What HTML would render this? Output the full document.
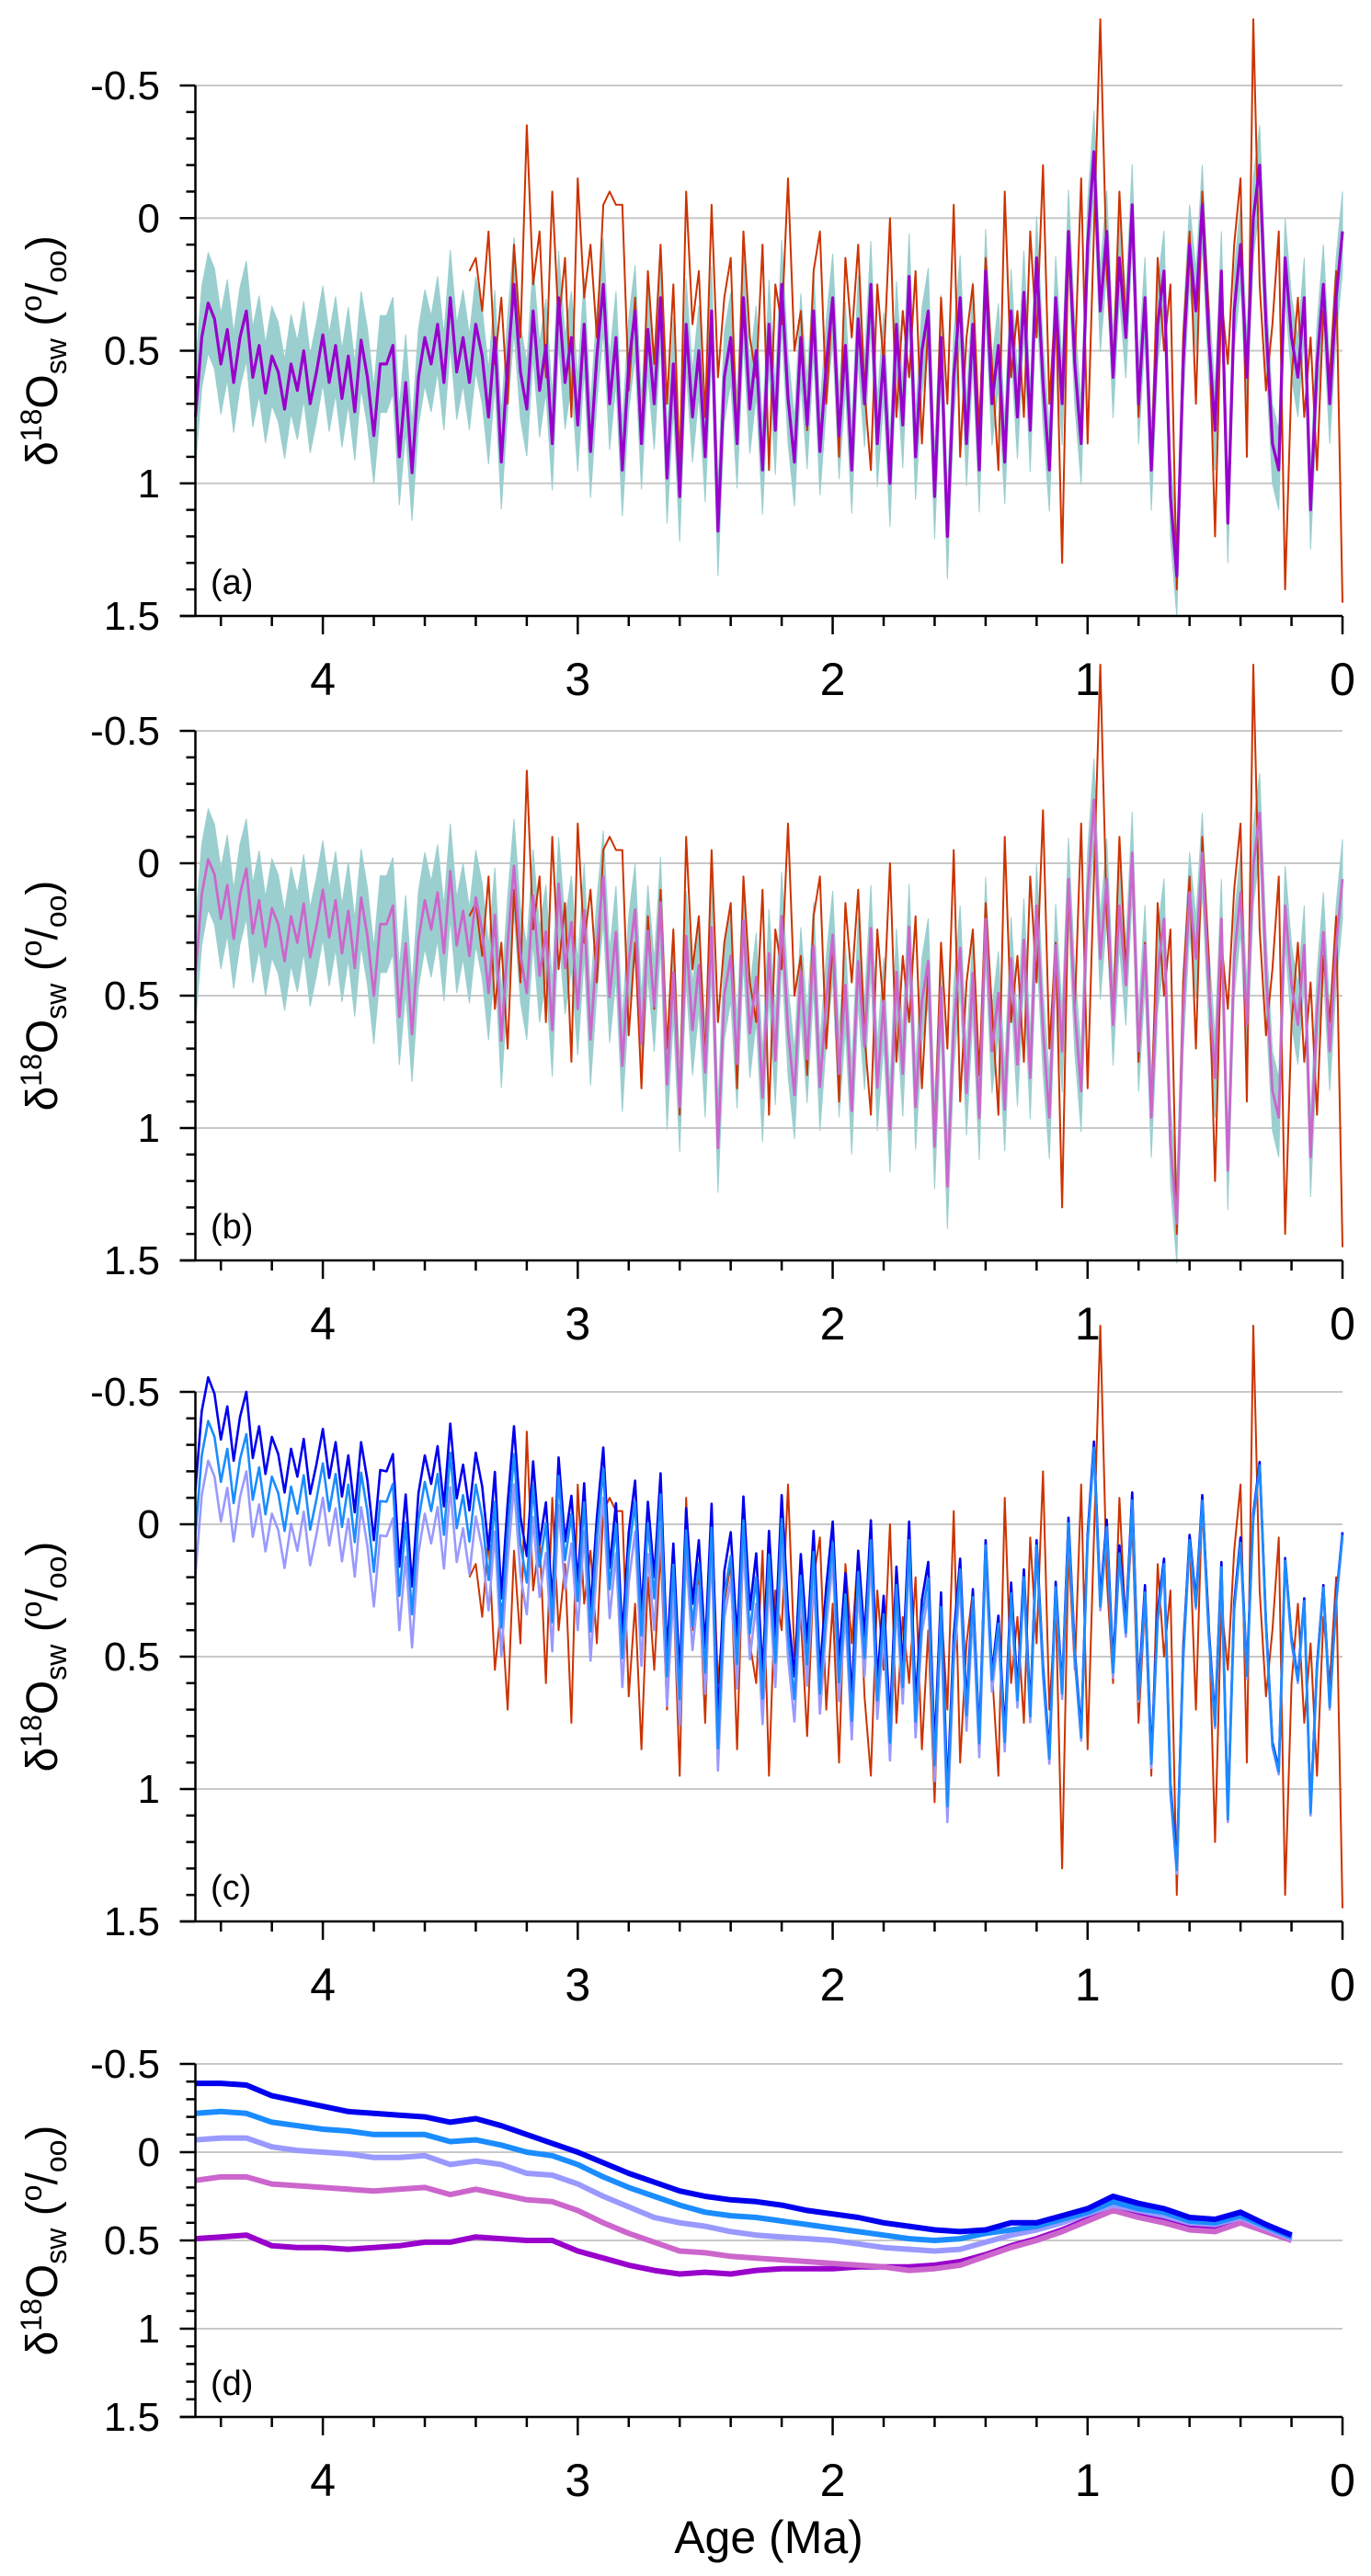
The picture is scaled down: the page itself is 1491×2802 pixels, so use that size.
<!DOCTYPE html>
<html><head><meta charset="utf-8"><style>
html,body{margin:0;padding:0;background:#fff}
svg{display:block}
text{font-family:"Liberation Sans",sans-serif;fill:#000}
</style></head><body>
<svg id="chart" width="1491" height="2802" viewBox="0 0 1491 2802" xmlns="http://www.w3.org/2000/svg"></svg>
<script>
// ---------- data ----------
const ageStart = 4.5;
const ageStep = 0.025;
// purple residual series (panel a), 4.5 Ma -> 0 Ma
const purpleVals = [
0.75,0.45,0.32,0.38,0.55,0.42,0.62,0.45,0.35,0.60,
0.48,0.66,0.52,0.58,0.72,0.55,0.65,0.50,0.70,0.58,
0.44,0.62,0.48,0.68,0.52,0.73,0.46,0.60,0.82,0.55,
0.55,0.48,0.90,0.62,0.96,0.60,0.45,0.55,0.40,0.62,
0.30,0.58,0.45,0.62,0.40,0.52,0.75,0.45,0.92,0.55,
0.25,0.58,0.72,0.35,0.65,0.48,0.85,0.30,0.62,0.45,
0.78,0.40,0.88,0.52,0.25,0.70,0.45,0.95,0.55,0.35,
0.85,0.42,0.70,0.30,0.98,0.55,1.05,0.40,0.75,0.50,
0.90,0.35,1.18,0.60,0.45,0.85,0.30,0.72,0.50,0.95,
0.40,0.80,0.25,0.68,0.92,0.45,0.78,0.35,0.88,0.55,
0.30,0.82,0.48,0.95,0.38,0.70,0.25,0.85,0.52,1.00,
0.40,0.78,0.22,0.90,0.50,0.35,1.05,0.45,1.20,0.60,
0.30,0.85,0.40,0.95,0.20,0.70,0.48,0.92,0.35,0.75,
0.28,0.80,0.15,0.62,0.95,0.30,0.70,0.05,0.55,0.85,
0.10,-0.25,0.35,0.05,0.60,0.15,0.45,-0.05,0.70,0.30,
0.95,0.40,0.20,1.05,1.35,0.55,0.10,0.35,-0.05,0.45,
0.80,0.20,1.15,0.35,0.10,0.60,0.00,-0.20,0.40,0.85,
0.95,0.15,0.45,0.60,0.30,1.10,0.55,0.25,0.70,0.30,
0.05];
// red benthic-derived series, 3.425 Ma -> 0 Ma
const redStart = 3.425;
const redVals = [
0.20,0.15,0.35,0.05,0.55,0.30,0.70,0.10,0.45,-0.35,
0.25,0.05,0.60,-0.10,0.40,0.15,0.75,-0.15,0.30,0.10,
0.45,-0.05,-0.10,-0.05,-0.05,0.65,0.30,0.85,0.20,0.55,
0.10,0.70,0.25,0.95,-0.10,0.40,0.20,0.75,-0.05,0.60,
0.30,0.15,0.85,0.05,0.45,0.60,0.10,0.95,0.25,0.40,
-0.15,0.50,0.35,0.80,0.20,0.05,0.70,0.30,0.90,0.15,
0.45,0.10,0.65,0.95,0.25,0.55,0.00,0.75,0.35,0.60,
0.20,0.85,0.40,1.05,0.30,0.70,-0.05,0.90,0.45,0.25,
0.80,0.15,0.55,0.95,-0.10,0.60,0.35,0.75,0.05,0.45,
-0.20,0.70,0.30,1.30,0.10,0.55,-0.15,0.85,0.05,-0.75,
0.20,0.60,-0.10,0.40,0.00,0.75,0.30,0.95,0.15,0.50,
0.25,1.40,0.45,0.05,0.70,-0.10,0.35,1.20,0.30,0.55,
0.10,-0.15,0.90,-0.75,0.25,0.65,0.40,0.05,1.40,0.60,
0.30,0.75,0.45,0.95,0.35,0.60,0.20,1.45];
// uncertainty band half-width knots
const bandAges = [4.5,3.5,2.5,1.5,0.5,0];
const bandHalf = [0.19,0.18,0.17,0.16,0.15,0.15];
// panel d smoothed curves, 4.5 -> 0.2 Ma step 0.1
const smoothAges = [4.5,4.4,4.3,4.2,4.1,4.0,3.9,3.8,3.7,3.6,3.5,3.4,3.3,3.2,3.1,3.0,2.9,2.8,2.7,2.6,2.5,2.4,2.3,2.2,2.1,2.0,1.9,1.8,1.7,1.6,1.5,1.4,1.3,1.2,1.1,1.0,0.9,0.8,0.7,0.6,0.5,0.4,0.3,0.2];
const smoothDark = [-0.39,-0.39,-0.38,-0.32,-0.29,-0.26,-0.23,-0.22,-0.21,-0.2,-0.17,-0.19,-0.15,-0.1,-0.05,0.0,0.06,0.12,0.17,0.22,0.25,0.27,0.28,0.30,0.33,0.35,0.37,0.40,0.42,0.44,0.45,0.44,0.40,0.40,0.36,0.32,0.25,0.29,0.32,0.37,0.38,0.34,0.41,0.47];
const smoothMid = [-0.22,-0.23,-0.22,-0.17,-0.15,-0.13,-0.12,-0.1,-0.1,-0.1,-0.06,-0.07,-0.04,0.0,0.02,0.07,0.14,0.2,0.25,0.3,0.34,0.36,0.37,0.39,0.41,0.43,0.45,0.47,0.49,0.5,0.49,0.46,0.44,0.42,0.38,0.34,0.28,0.32,0.34,0.39,0.4,0.36,0.42,0.48];
const smoothLav = [-0.07,-0.08,-0.08,-0.03,-0.01,0.0,0.01,0.03,0.03,0.02,0.07,0.05,0.07,0.12,0.13,0.18,0.25,0.31,0.37,0.4,0.42,0.45,0.47,0.48,0.49,0.5,0.52,0.54,0.55,0.56,0.55,0.51,0.47,0.44,0.4,0.35,0.3,0.33,0.36,0.4,0.41,0.37,0.43,0.49];
const smoothPink = [0.16,0.14,0.14,0.18,0.19,0.2,0.21,0.22,0.21,0.2,0.24,0.21,0.24,0.27,0.28,0.33,0.4,0.46,0.51,0.56,0.57,0.59,0.6,0.61,0.62,0.63,0.64,0.65,0.67,0.66,0.64,0.59,0.54,0.5,0.45,0.39,0.33,0.37,0.4,0.44,0.45,0.4,0.45,0.5];
const smoothPurple = [0.49,0.48,0.47,0.53,0.54,0.54,0.55,0.54,0.53,0.51,0.51,0.48,0.49,0.5,0.5,0.56,0.6,0.64,0.67,0.69,0.68,0.69,0.67,0.66,0.66,0.66,0.65,0.65,0.65,0.64,0.62,0.58,0.53,0.49,0.44,0.38,0.32,0.36,0.39,0.43,0.44,0.39,0.44,0.49];
const yTicks = [-0.5,0,0.5,1,1.5];
const yTickLabels = ["-0.5","0","0.5","1","1.5"];
const xTicks = [4,3,2,1,0];
const xTickLabels = ["4","3","2","1","0"];

// ---------- layout ----------
const NS = "http://www.w3.org/2000/svg";
const svg = document.getElementById('chart');
const X0 = 212.5, X1 = 1460;
const panels = [
 {top:93, bottom:670, label:"(a)", key:"a"},
 {top:795, bottom:1371, label:"(b)", key:"b"},
 {top:1514, bottom:2090, label:"(c)", key:"c"},
 {top:2245, bottom:2629, label:"(d)", key:"d"}
];
function xScale(age){ return X0 + (ageStart - age) / ageStart * (X1 - X0); }
function mk(tag, attrs, parent){
  const e = document.createElementNS(NS, tag);
  for (const k in attrs) e.setAttribute(k, attrs[k]);
  (parent || svg).appendChild(e);
  return e;
}
function interp(xs, ys, a){
  if (a >= xs[0]) return ys[0];
  if (a <= xs[xs.length-1]) return ys[ys.length-1];
  for (let i=0;i<xs.length-1;i++){
    if (a <= xs[i] && a >= xs[i+1]){
      const f = (xs[i]-a)/(xs[i]-xs[i+1]);
      return ys[i] + f*(ys[i+1]-ys[i]);
    }
  }
  return ys[0];
}
function ageOf(i){ return ageStart - i*ageStep; }

function drawPanel(p){
  const g = mk('g', {});
  
  
  const yS = v => p.top + (v + 0.5) / 2 * (p.bottom - p.top);
  p.yS = yS;
  for (let i=0;i<yTicks.length-1;i++){
    const l = mk('line', {x1:X0, x2:X1, y1:yS(yTicks[i]), y2:yS(yTicks[i]), stroke:'#c8c8c8', 'stroke-width':2}, g);
    
    
  }
  const dg = mk('g', {}, g);
  
  
  p.dg = dg;
  const ax = mk('g', {stroke:'#000', 'stroke-width':2.5}, g);
  
  
  mk('line', {x1:X0, x2:X0, y1:p.top, y2:p.bottom}, ax);
  mk('line', {x1:X0-17, x2:X1, y1:p.bottom, y2:p.bottom}, ax);
  for (let v=-0.5; v<=1.5001; v+=0.1){
    const major = Math.abs(v*2 - Math.round(v*2)) < 1e-6;
    mk('line', {x1:X0-(major?17:10), x2:X0, y1:yS(v), y2:yS(v)}, ax);
  }
  for (let a=4.4; a>=-0.001; a-=0.2){
    const major = Math.abs(a - Math.round(a)) < 1e-6;
    mk('line', {x1:xScale(a), x2:xScale(a), y1:p.bottom, y2:p.bottom + (major?20:11)}, ax);
  }
  yTicks.forEach((v,i)=>{
    const t = mk('text', {x:174, y:yS(v)+15, 'text-anchor':'end', 'font-size':44}, g);
    t.textContent = yTickLabels[i];
    
    
  });
  xTicks.forEach((v,i)=>{
    const t = mk('text', {x:xScale(v), y:p.bottom+86, 'text-anchor':'middle', 'font-size':50}, g);
    t.textContent = xTickLabels[i];
    
    
  });
  const lab = mk('text', {x:229, y:p.bottom - 24, 'font-size':38}, g);
  lab.textContent = p.label;
  
  
  const cy = (p.top + p.bottom)/2;
  const yt = mk('text', {x:0, y:0, 'text-anchor':'middle', 'font-size':48, transform:`translate(62 ${cy}) rotate(-90)`}, g);
  
  
  yt.innerHTML = 'δ<tspan dy="-17" font-size="32">18</tspan><tspan dy="17">O</tspan><tspan dy="10" font-size="32">sw</tspan><tspan dy="-10"> (</tspan><tspan dy="-17" font-size="32">o</tspan><tspan dy="17">/</tspan><tspan dy="10" font-size="32">oo</tspan><tspan dy="-10">)</tspan>';
}
panels.forEach(drawPanel);

function linePath(p, ages, vals, color, width, name){
  let d = '';
  vals.forEach((v,i)=>{ d += (i?'L':'M') + xScale(ages[i]).toFixed(1) + ' ' + p.yS(v).toFixed(1); });
  const e = mk('path', {d:d, fill:'none', stroke:color, 'stroke-width':width, 'stroke-linejoin':'round'}, p.dg);
  
  
  return e;
}
const pAges = purpleVals.map((v,i)=>ageOf(i));
const rAges = redVals.map((v,i)=>redStart - i*ageStep);
function corrected(curve){
  return purpleVals.map((v,i)=> v + interp(smoothAges, curve, pAges[i]) - interp(smoothAges, smoothPurple, pAges[i]));
}
function band(p, vals, name){
  let up = '', lo = '';
  vals.forEach((v,i)=>{
    const h = interp(bandAges, bandHalf, pAges[i]);
    up += (i?'L':'M') + xScale(pAges[i]).toFixed(1) + ' ' + p.yS(v - h).toFixed(1);
  });
  for (let i=vals.length-1;i>=0;i--){
    const h = interp(bandAges, bandHalf, pAges[i]);
    lo += 'L' + xScale(pAges[i]).toFixed(1) + ' ' + p.yS(vals[i] + h).toFixed(1);
  }
  const e = mk('path', {d:up+lo+'Z', fill:'#9bcfcf', stroke:'#9bcfcf', 'stroke-width':1}, p.dg);
  
  
}
band(panels[0], purpleVals, 'uncertainty-band-a');
linePath(panels[0], rAges, redVals, '#cc3300', 2, 'red-series-a');
linePath(panels[0], pAges, purpleVals, '#9900cc', 3.2, 'purple-series-a');
const pinkVals = corrected(smoothPink);
band(panels[1], pinkVals, 'uncertainty-band-b');
linePath(panels[1], rAges, redVals, '#cc3300', 2, 'red-series-b');
linePath(panels[1], pAges, pinkVals, '#cc66cc', 2.8, 'pink-series-b');
linePath(panels[2], rAges, redVals, '#cc3300', 2, 'red-series-c');
linePath(panels[2], pAges, corrected(smoothDark), '#0000ee', 2.6, 'darkblue-series-c');
linePath(panels[2], pAges, corrected(smoothLav), '#9999ff', 2.6, 'lavender-series-c');
linePath(panels[2], pAges, corrected(smoothMid), '#1a8cff', 2.6, 'blue-series-c');
linePath(panels[3], smoothAges, smoothPurple, '#9900cc', 6, 'purple-smooth-d');
linePath(panels[3], smoothAges, smoothPink, '#cc66cc', 6, 'pink-smooth-d');
linePath(panels[3], smoothAges, smoothLav, '#9999ff', 6, 'lavender-smooth-d');
linePath(panels[3], smoothAges, smoothMid, '#1a8cff', 6, 'blue-smooth-d');
linePath(panels[3], smoothAges, smoothDark, '#0000ee', 6, 'darkblue-smooth-d');
const xt = mk('text', {x:836, y:2777, 'text-anchor':'middle', 'font-size':50});
xt.textContent = 'Age (Ma)';


</script>
</body></html>
